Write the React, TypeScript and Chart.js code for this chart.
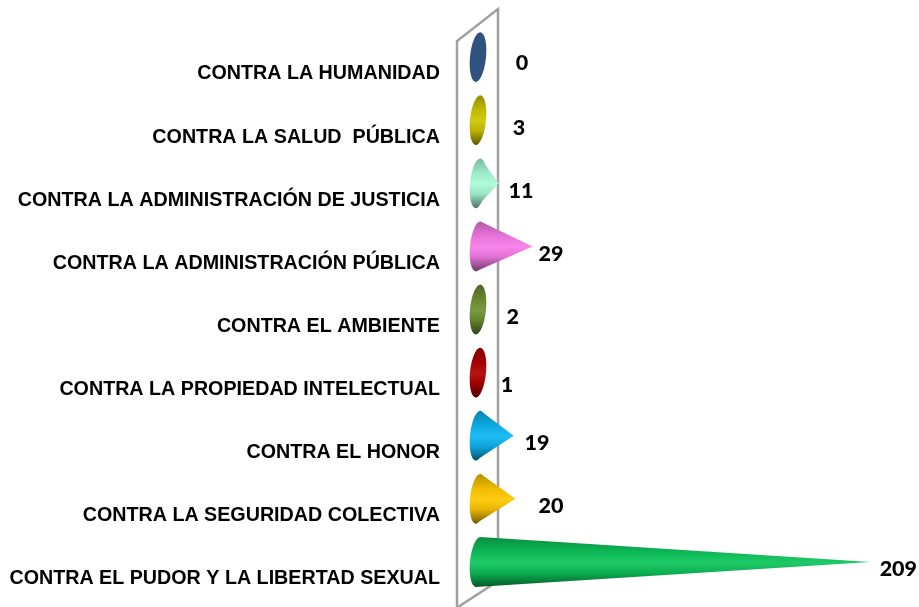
import { useEffect, useRef } from "react";
import { Chart, BarController, BarElement, CategoryScale, LinearScale } from "chart.js";

const categories = [
  "CONTRA LA HUMANIDAD",
  "CONTRA LA SALUD  PÚBLICA",
  "CONTRA LA ADMINISTRACIÓN DE JUSTICIA",
  "CONTRA LA ADMINISTRACIÓN PÚBLICA",
  "CONTRA EL AMBIENTE",
  "CONTRA LA PROPIEDAD INTELECTUAL",
  "CONTRA EL HONOR",
  "CONTRA LA SEGURIDAD COLECTIVA",
  "CONTRA EL PUDOR Y LA LIBERTAD SEXUAL",
];
const values = [0, 3, 11, 29, 2, 1, 19, 20, 209];
const coneColors = ["#30527F", "#CDC400", "#A8FBD8", "#F77BE8", "#6E9033", "#B00000", "#0DB5F2", "#FFC800", "#0CC45A"];
// hand-placed data label nudges, relative to each cone's tip
const labelDx = [44, 35.4, 22.4, 18.6, 31, 27, 23.4, 35.5, 28];
const labelDy = [6, 8, 8, 7.7, 7.6, 12.5, 7.4, 7.3, 7.2];

function mix(hex: string, target: number, t: number) {
  const n = parseInt(hex.slice(1), 16);
  const ch = [(n >> 16) & 255, (n >> 8) & 255, n & 255].map((c) => Math.round(c + (target - c) * t));
  return `rgb(${ch[0]},${ch[1]},${ch[2]})`;
}

class ConeElement extends BarElement {
  static id = "cone";
  draw(ctx: CanvasRenderingContext2D) {
    const { x, y, base, height } = (this as any).getProps(["x", "y", "base", "height"], true);
    const color = (this as any).options.backgroundColor as string;
    const rY = height / 2;
    const rX = 8;
    const tilt = 0.1; // 3D lean of the base ellipse
    const flat = x === base;
    const grad = ctx.createLinearGradient(0, y - rY, 0, y + rY);
    if (flat) {
      grad.addColorStop(0, color);
      grad.addColorStop(1, color);
    } else {
      grad.addColorStop(0, mix(color, 0, 0.28));
      grad.addColorStop(0.3, mix(color, 0, 0.06));
      grad.addColorStop(0.52, mix(color, 255, 0.08));
      grad.addColorStop(0.72, mix(color, 0, 0.1));
      grad.addColorStop(1, mix(color, 0, 0.55));
    }
    ctx.save();
    ctx.fillStyle = grad;
    ctx.beginPath();
    ctx.ellipse(base, y, rX, rY, Math.atan(tilt), 0, Math.PI * 2);
    ctx.fill();
    if (!flat) {
      ctx.beginPath();
      ctx.moveTo(x, y);
      ctx.lineTo(base + rY * tilt, y - rY);
      ctx.lineTo(base - rY * tilt, y + rY);
      ctx.closePath();
      ctx.fill();
    }
    ctx.restore();
  }
}

class ConeController extends BarController {
  static id = "cone";
  static defaults = { ...BarController.defaults, dataElementType: "cone" };
  static overrides = BarController.overrides;
}

const wallPlugin = {
  id: "wall",
  beforeDatasetsDraw(chart: any) {
    const ctx = chart.ctx;
    const x0 = chart.scales.x.getPixelForValue(0);
    const left = x0 - 21;
    const right = x0 + 20;
    ctx.save();
    ctx.strokeStyle = "#A0A0A0";
    ctx.lineWidth = 2.5;
    ctx.beginPath();
    ctx.moveTo(left, 607);
    ctx.lineTo(left, 41);
    ctx.lineTo(right, 9);
    ctx.lineTo(right, 581);
    ctx.lineTo(left + 1, 607);
    ctx.stroke();
    ctx.restore();
  },
};

const valueLabelPlugin = {
  id: "valueLabels",
  afterDatasetsDraw(chart: any) {
    const ctx = chart.ctx;
    const els = chart.getDatasetMeta(0).data;
    ctx.save();
    ctx.font = "900 21.5px Lato";
    ctx.fillStyle = "#000";
    ctx.textAlign = "center";
    ctx.textBaseline = "middle";
    els.forEach((el: any, i: number) => {
      ctx.fillText(String(values[i]), el.x + labelDx[i], el.y + labelDy[i]);
    });
    ctx.restore();
  },
};

Chart.register(ConeController, ConeElement, CategoryScale, LinearScale);

export default function App() {
  const ref = useRef<HTMLCanvasElement>(null);
  useEffect(() => {
    const chart = new Chart(ref.current!, {
      type: "cone" as any,
      data: {
        labels: categories,
        datasets: [{ data: values, backgroundColor: coneColors, barThickness: 50, clip: false } as any],
      },
      plugins: [wallPlugin, valueLabelPlugin],
      options: {
        indexAxis: "y",
        animation: false,
        responsive: false,
        layout: { padding: { top: 25.5, bottom: 13.5, right: 28, left: 0 } },
        plugins: { legend: { display: false }, tooltip: { enabled: false } },
        scales: {
          x: { type: "linear", display: false, min: 0, max: 220 },
          y: {
            type: "category",
            offset: true,
            grid: { display: false, drawTicks: false },
            border: { display: false },
            afterFit(scale: any) {
              scale.width = 478;
              scale.paddingTop = 0;
              scale.paddingBottom = 0;
            },
            ticks: {
              autoSkip: false,
              color: "#000",
              padding: 38,
              labelOffset: 17,
              font: { family: "Liberation Sans", weight: "bold", size: 19.7 },
            },
          },
        },
      } as any,
    });
    return () => chart.destroy();
  }, []);
  return (
    <div style={{ position: "absolute", left: 0, top: 0, width: 919, height: 607 }}>
      <canvas ref={ref} width={919} height={607} style={{ display: "block" }} />
    </div>
  );
}
